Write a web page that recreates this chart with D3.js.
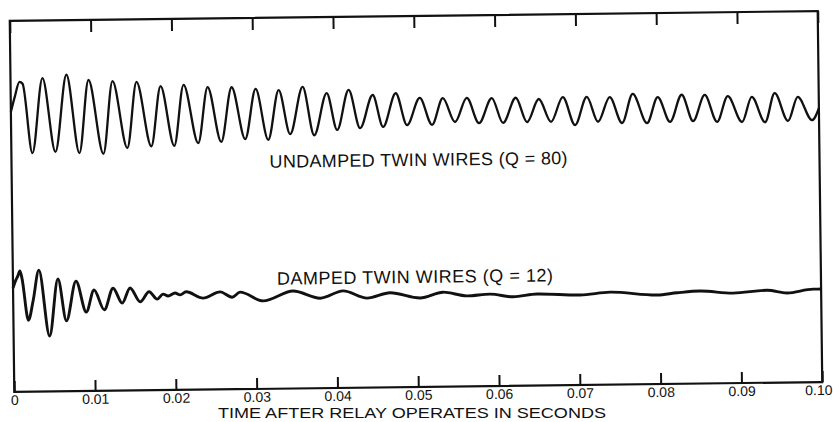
<!DOCTYPE html>
<html>
<head>
<meta charset="utf-8">
<script src="https://cdn.jsdelivr.net/npm/d3@7"></script>
<style>
  body { margin: 0; background: #fff; }
  svg { display: block; }
</style>
</head>
<body>
<svg width="833" height="422"></svg>
<script>
// time in ms after the relay operates, deflection in chart units (bottom of frame = 0)
var tickValues = [0, 10, 20, 30, 40, 50, 60, 70, 80, 90, 100];
var tickLabels = ["0", "0.01", "0.02", "0.03", "0.04", "0.05", "0.06", "0.07", "0.08", "0.09", "0.10"];

// undamped twin wires, Q = 80 (turning points)
var upperTime = [0, 0.50, 1.11, 1.49, 2.60, 3.96, 5.45, 6.93, 8.42, 9.65, 11.39, 12.62, 14.36, 15.59,
  17.33, 18.56, 20.17, 21.41, 23.14, 24.38, 25.99, 27.35, 28.96, 30.32, 31.81, 33.17, 34.53, 36.14,
  37.50, 39.11, 40.35, 41.83, 43.19, 44.80, 46.04, 47.65, 49.01, 50.62, 52.10, 53.47, 54.95, 56.44,
  57.92, 59.53, 60.89, 62.50, 63.86, 65.35, 66.83, 68.32, 69.80, 71.29, 72.65, 74.13, 75.62, 76.98,
  78.71, 80.07, 81.56, 83.04, 84.41, 85.89, 87.38, 88.74, 90.47, 91.71, 93.32, 94.55, 96.16, 97.40,
  99.13, 100];
var upperValue = [56.0, 59.0, 62.0, 61.6, 47.7, 62.7, 47.9, 63.3, 47.6, 62.2, 47.4, 61.9, 48.5, 61.7,
  48.8, 60.8, 48.8, 61.0, 49.3, 60.5, 49.5, 60.4, 50.0, 60.0, 49.8, 59.7, 50.9, 60.3,
  50.6, 59.0, 51.6, 59.6, 51.9, 58.5, 52.1, 58.8, 52.4, 57.8, 52.4, 57.7, 52.9, 57.7,
  52.6, 57.6, 52.6, 57.6, 52.7, 57.3, 52.7, 57.6, 52.0, 57.6, 52.6, 57.5, 52.3, 58.1,
  52.2, 57.4, 52.4, 57.8, 52.5, 57.7, 52.3, 57.4, 52.2, 57.2, 52.1, 57.9, 52.3, 57.1,
  52.4, 54.8];

// damped twin wires, Q = 12
var lowerTime = [0, 0.37, 0.62, 0.87, 1.11, 1.86, 2.48, 3.22, 4.46, 5.57, 6.56, 7.80, 9.03, 10.02,
  11.26, 12.38, 13.49, 14.48, 15.72, 16.83, 17.82, 18.56, 19.18, 20.05, 20.67, 21.41, 23.51, 25.62,
  27.10, 28.09, 30.94, 34.65, 38.00, 40.84, 43.81, 46.66, 50.37, 53.22, 56.19, 59.03, 61.88, 64.85,
  70.17, 73.89, 79.70, 82.18, 85.02, 89.11, 93.32, 95.79, 99.01, 100];
var lowerValue = [20.8, 22.4, 23.2, 24.2, 22.8, 14.3, 18.3, 24.3, 11.1, 22.5, 14.1, 22.0, 15.8, 20.2,
  16.2, 20.5, 17.5, 20.5, 17.7, 19.7, 18.2, 19.2, 18.8, 19.4, 19.0, 19.6, 18.3, 19.5,
  18.4, 19.4, 17.6, 19.5, 18.0, 19.4, 17.9, 18.9, 17.8, 18.9, 18.1, 18.4, 17.8, 18.3,
  18.0, 18.5, 17.8, 18.2, 18.5, 18.0, 18.5, 17.9, 18.6, 18.6];

var labels = ["UNDAMPED TWIN WIRES (Q = 80)", "DAMPED TWIN WIRES (Q = 12)"];
var axisTitle = "TIME AFTER RELAY OPERATES IN SECONDS";

var frameLeft = 12, frameRight = 820, frameTop = 16, frameBottom = 387;
var font = "'Liberation Sans', Arial, sans-serif";

var svg = d3.select("svg");
svg.append("rect").attr("width", 833).attr("height", 422).attr("fill", "#fff");

// the scanned sheet sits slightly askew
var g = svg.append("g").attr("transform", "rotate(-0.7,416,201)");

var x = d3.scaleLinear().domain([0, 100]).range([frameLeft, frameRight]);
var y = d3.scaleLinear().domain([0, 74.2]).range([frameBottom, frameTop]);

// bottom axis, ticks pointing inward
var bx = g.append("g")
  .attr("transform", "translate(0," + frameBottom + ")")
  .call(d3.axisBottom(x).tickValues(tickValues)
    .tickFormat(function (d, i) { return tickLabels[i]; })
    .tickSizeInner(-11).tickSizeOuter(0).tickPadding(3));
bx.attr("font-size", null).attr("font-family", null);
bx.select(".domain").remove();
bx.selectAll("line").attr("stroke", "#111").attr("stroke-width", 2);
bx.selectAll("text")
  .attr("fill", "#111")
  .attr("font-family", font)
  .attr("font-size", 14);
// nudge the last label so it stays on the sheet
bx.selectAll("text").filter(function (d) { return d === 100; }).attr("dx", -4);

// top axis, same ticks, no labels
var tx = g.append("g")
  .attr("transform", "translate(0," + frameTop + ")")
  .call(d3.axisTop(x).tickValues(tickValues).tickFormat("")
    .tickSizeInner(-12).tickSizeOuter(0));
tx.select(".domain").remove();
tx.selectAll("line").attr("stroke", "#111").attr("stroke-width", 2);

// frame
g.append("rect")
  .attr("x", frameLeft).attr("y", frameTop)
  .attr("width", frameRight - frameLeft).attr("height", frameBottom - frameTop)
  .attr("fill", "none").attr("stroke", "#111").attr("stroke-width", 2.2);

var line = d3.line()
  .x(function (d) { return x(d[0]); })
  .y(function (d) { return y(d[1]); })
  .curve(d3.curveMonotoneX);

g.append("path")
  .datum(d3.zip(upperTime, upperValue))
  .attr("d", line)
  .attr("fill", "none").attr("stroke", "#111")
  .attr("stroke-width", 2.3).attr("stroke-linejoin", "round");

g.append("path")
  .datum(d3.zip(lowerTime, lowerValue))
  .attr("d", line)
  .attr("fill", "none").attr("stroke", "#111")
  .attr("stroke-width", 2.9).attr("stroke-linejoin", "round");

g.append("text")
  .attr("x", 270).attr("y", 166)
  .attr("textLength", 298).attr("lengthAdjust", "spacing")
  .attr("font-family", font).attr("font-size", 18)
  .attr("fill", "#111")
  .text(labels[0]);

g.append("text")
  .attr("x", 276).attr("y", 283)
  .attr("textLength", 276).attr("lengthAdjust", "spacing")
  .attr("font-family", font).attr("font-size", 18)
  .attr("fill", "#111")
  .text(labels[1]);

// axis title, kept level so it stays inside the picture
svg.append("text")
  .attr("x", 218).attr("y", 418)
  .attr("textLength", 388).attr("lengthAdjust", "spacingAndGlyphs")
  .attr("font-family", font).attr("font-size", 15)
  .attr("fill", "#111")
  .text(axisTitle);
</script>
</body>
</html>
